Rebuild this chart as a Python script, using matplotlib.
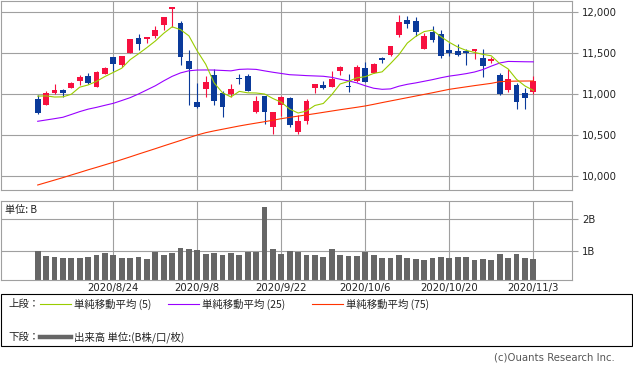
import matplotlib
matplotlib.use('Agg')
import matplotlib.pyplot as plt
from matplotlib.patches import Rectangle
from matplotlib.lines import Line2D
from matplotlib.ticker import FuncFormatter
import numpy as np

plt.rcParams['font.family'] = ['DejaVu Sans']
CJK = ['Noto Sans CJK JP', 'DejaVu Sans']

# ---------------- data ----------------
dates = ["8/11", "8/12", "8/13", "8/14", "8/17", "8/18", "8/19", "8/20", "8/21", "8/24",
         "8/25", "8/26", "8/27", "8/28", "8/31", "9/1", "9/2", "9/3", "9/4", "9/8",
         "9/9", "9/10", "9/11", "9/14", "9/15", "9/16", "9/17", "9/18", "9/21", "9/22",
         "9/23", "9/24", "9/25", "9/28", "9/29", "9/30", "10/1", "10/2", "10/5", "10/6",
         "10/7", "10/8", "10/9", "10/12", "10/13", "10/14", "10/15", "10/16", "10/19", "10/20",
         "10/21", "10/22", "10/23", "10/26", "10/27", "10/28", "10/29", "10/30", "11/2", "11/3"]

opens = [10939, 10870, 11012, 11049, 11077, 11163, 11220, 11081, 11244, 11455,
         11358, 11504, 11683, 11671, 11711, 11846, 12041, 11866, 11402, 10902,
         11057, 11232, 11012, 10996, 11192, 11220, 10785, 10976, 10602, 10870,
         10951, 10541, 10675, 11073, 11106, 11089, 11280, 11092, 11159, 11317,
         11256, 11443, 11476, 11720, 11902, 11890, 11553, 11760, 11732, 11537,
         11524, 11528, 11528, 11439, 11402, 11232, 11049, 11114, 11012, 11028]
highs = [10988, 11041, 11122, 11065, 11150, 11236, 11256, 11280, 11329, 11455,
         11463, 11671, 11732, 11695, 11829, 11935, 12065, 11890, 11537, 11138,
         11220, 11305, 11041, 11122, 11244, 11248, 10972, 10976, 10780, 10972,
         10963, 10748, 10935, 11122, 11159, 11280, 11341, 11244, 11350, 11390,
         11378, 11455, 11585, 11963, 11955, 11943, 11748, 11829, 11780, 11618,
         11610, 11549, 11549, 11549, 11455, 11260, 11301, 11138, 11073, 11220]
lows = [10760, 10870, 11004, 10959, 11077, 11106, 11122, 11081, 11244, 11280,
        11333, 11504, 11537, 11626, 11687, 11785, 11817, 11358, 10870, 10833,
        10963, 10870, 10724, 10967, 11122, 11041, 10772, 10634, 10512, 10736,
        10602, 10516, 10638, 11012, 11061, 11089, 11232, 11025, 11146, 11150,
        11256, 11382, 11468, 11699, 11805, 11707, 11553, 11638, 11443, 11467,
        11463, 11358, 11431, 11211, 11374, 10988, 11028, 10821, 10821, 10996]
closes = [10772, 11008, 11049, 11016, 11134, 11207, 11140, 11268, 11317, 11366,
          11463, 11671, 11614, 11695, 11780, 11935, 12065, 11455, 11305, 10841,
          11146, 10919, 10846, 11061, 11186, 11041, 10915, 10785, 10780, 10963,
          10626, 10675, 10919, 11122, 11073, 11179, 11329, 11080, 11329, 11150,
          11366, 11419, 11585, 11878, 11854, 11760, 11707, 11659, 11467, 11500,
          11476, 11504, 11549, 11346, 11427, 10996, 11183, 10907, 10951, 11159]

ma5 = [10974, 10977, 10963, 10965, 10997, 11083, 11110, 11154, 11213, 11263,
       11314, 11418, 11490, 11566, 11646, 11740, 11819, 11785, 11709, 11523,
       11363, 11136, 11015, 10964, 11032, 11014, 11012, 11000, 10945, 10899,
       10816, 10768, 10792, 10860, 10884, 10991, 11122, 11154, 11197, 11211,
       11251, 11270, 11371, 11479, 11621, 11702, 11761, 11779, 11699, 11630,
       11573, 11532, 11507, 11483, 11466, 11370, 11306, 11179, 11098, 11044]
ma25 = [10667, 10683, 10699, 10716, 10750, 10785, 10815, 10837, 10862, 10886,
        10920, 10955, 11000, 11050, 11100, 11160, 11215, 11257, 11283, 11292,
        11293, 11292, 11287, 11282, 11300, 11304, 11300, 11282, 11265, 11250,
        11235, 11230, 11224, 11220, 11216, 11203, 11180, 11160, 11135, 11100,
        11070, 11057, 11062, 11095, 11118, 11135, 11155, 11175, 11198, 11218,
        11232, 11248, 11268, 11298, 11340, 11378, 11397, 11395, 11393, 11392]
ma75 = [9890, 9920, 9950, 9980, 10012, 10043, 10075, 10105, 10136, 10167,
        10200, 10233, 10267, 10300, 10333, 10367, 10400, 10433, 10467, 10500,
        10528, 10550, 10570, 10590, 10610, 10628, 10645, 10662, 10680, 10699,
        10715, 10730, 10745, 10760, 10776, 10792, 10808, 10823, 10838, 10854,
        10874, 10895, 10915, 10935, 10955, 10975, 10995, 11015, 11036, 11057,
        11072, 11087, 11102, 11116, 11130, 11150, 11155, 11157, 11158, 11159]

volume = [1.00, 0.83, 0.80, 0.77, 0.77, 0.77, 0.80, 0.86, 0.93, 0.86,
          0.77, 0.77, 0.80, 0.74, 0.96, 0.86, 0.93, 1.08, 1.05, 1.02,
          0.90, 0.93, 0.86, 0.93, 0.86, 0.96, 0.96, 2.38, 1.05, 0.90,
          0.99, 0.96, 0.86, 0.86, 0.80, 1.05, 0.86, 0.83, 0.83, 0.96,
          0.86, 0.77, 0.77, 0.86, 0.77, 0.74, 0.71, 0.77, 0.80, 0.77,
          0.80, 0.80, 0.71, 0.74, 0.71, 0.90, 0.77, 0.90, 0.77, 0.74]

tick_dates = ["8/24", "9/8", "9/22", "10/6", "10/20", "11/3"]
tick_labels = ["2020/8/24", "2020/9/8", "2020/9/22", "2020/10/6", "2020/10/20", "2020/11/3"]
price_ticks = [10000, 10500, 11000, 11500, 12000]
vol_ticks = [1, 2]
vol_tick_labels = ["1B", "2B"]

legend_labels = ["単純移動平均 (5)", "単純移動平均 (25)", "単純移動平均 (75)"]

# ---------------- style ----------------
RED = '#f7103f'
BLUE = '#0a3a9a'
C5 = '#99cc00'
C25 = '#9900ff'
C75 = '#ff3300'
VOLC = '#666666'
GRID = '#a0a0a0'
TXT = '#222222'
LW = 0.8

W, H = 633, 373
fig = plt.figure(figsize=(W / 100, H / 100), dpi=100)


def fx(px):
    return px / W


def fy(py):
    return 1 - py / H


x = np.arange(len(dates))
O = np.array(opens, float)
Hh = np.array(highs, float)
L = np.array(lows, float)
C = np.array(closes, float)
tick_pos = [dates.index(d) for d in tick_dates]

x_left, x_right = -4.37, 63.57

# ---------------- price panel ----------------
ax = fig.add_axes([fx(1), fy(190), fx(570.7), (190 - 1) / H])
ax.set_xlim(x_left, x_right)
ax.set_ylim(9829, 12134)
ax.set_yticks(price_ticks)
ax.yaxis.set_major_formatter(FuncFormatter(lambda v, p: f"{int(v):,}"))
ax.set_xticks(tick_pos)
ax.set_xticklabels([])
ax.grid(True, color=GRID, lw=LW)
ax.set_axisbelow(True)
ax.yaxis.tick_right()
ax.tick_params(axis='y', length=4.5, width=LW, color=GRID, labelsize=7.3, labelcolor=TXT, pad=3)
ax.tick_params(axis='x', length=0)
for s in ax.spines.values():
    s.set_color(GRID)
    s.set_linewidth(LW)

up = C >= O
cols = np.where(up, RED, BLUE)
ax.vlines(x, L, Hh, colors=cols, lw=LW, zorder=2)
body_bottom = np.minimum(O, C)
body_height = np.maximum(np.abs(C - O), 7)
ax.bar(x, body_height, 0.7, body_bottom, color=cols, lw=0, zorder=2)

ax.plot(x, ma75, color=C75, lw=LW, zorder=3)
ax.plot(x, ma25, color=C25, lw=LW, zorder=3)
ax.plot(x, ma5, color=C5, lw=LW, zorder=3)

# ---------------- volume panel ----------------
axv = fig.add_axes([fx(1), fy(280.3), fx(570.7), (280.3 - 201) / H])
axv.set_xlim(x_left, x_right)
axv.set_ylim(0.066, 2.568)
axv.bar(x, volume, 0.7, color=VOLC, lw=0, zorder=2)
axv.set_yticks(vol_ticks)
axv.set_yticklabels(vol_tick_labels)
axv.yaxis.tick_right()
axv.set_xticks(tick_pos)
axv.set_xticklabels(tick_labels)
axv.grid(True, color=GRID, lw=LW)
axv.set_axisbelow(True)
axv.tick_params(axis='y', length=4.5, width=LW, color=GRID, labelsize=7.3, labelcolor=TXT, pad=3)
axv.tick_params(axis='x', length=0, labelsize=7.3, labelcolor=TXT, pad=1.8)
for s in axv.spines.values():
    s.set_color(GRID)
    s.set_linewidth(LW)
fig.text(fx(5), fy(210), "単位: B", family=CJK, fontsize=7.3, color=TXT, va='center', ha='left')

# ---------------- legend box ----------------
fig.add_artist(Rectangle((fx(0.5), fy(345.5)), fx(631.5), (345.5 - 294) / H,
                         transform=fig.transFigure, fill=False, edgecolor='black', lw=LW))
y1, y2 = 304, 337
fig.text(fx(8), fy(y1), "上段：", family=CJK, fontsize=7.5, color=TXT, va='center')
fig.text(fx(8), fy(y2), "下段：", family=CJK, fontsize=7.5, color=TXT, va='center')
for (x0, x1, xt), col, lab in zip([(40, 71, 74), (168, 199, 202), (312, 343, 346)],
                                  [C5, C25, C75], legend_labels):
    fig.add_artist(Line2D([fx(x0), fx(x1)], [fy(y1), fy(y1)], transform=fig.transFigure,
                          color=col, lw=LW))
    fig.text(fx(xt), fy(y1), lab, family=CJK, fontsize=7.5, color=TXT, va='center')
fig.add_artist(Line2D([fx(40), fx(71)], [fy(y2), fy(y2)], transform=fig.transFigure,
                      color=VOLC, lw=3.2))
fig.text(fx(74), fy(y2), "出来高 単位:(B株/口/枚)", family=CJK, fontsize=7.5, color=TXT, va='center')

fig.text(fx(615), fy(357), "(c)Ouants Research Inc.", fontsize=7.3, color='#555555',
         ha='right', va='center')

fig.savefig('out.png', dpi=100)
